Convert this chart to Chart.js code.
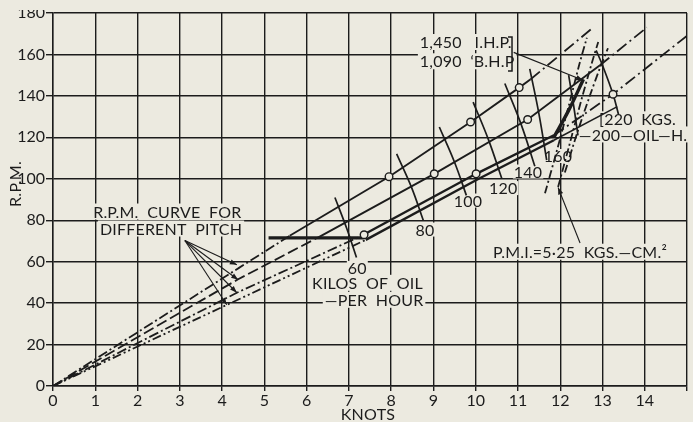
<!DOCTYPE html>
<html>
<head>
<meta charset="utf-8">
<script src="https://cdn.jsdelivr.net/npm/chart.js@4.4.1/dist/chart.umd.min.js"></script>
<style>
  html, body { margin: 0; padding: 0; background: #ecEAE0; }
  #wrap { width: 693px; height: 422px; }
</style>
</head>
<body>
<div id="wrap"><canvas id="chart" width="693" height="422"></canvas></div>
<script>
// ---- axis ranges / ticks ----
const knotTicks = [0, 1, 2, 3, 4, 5, 6, 7, 8, 9, 10, 11, 12, 13, 14];
const rpmTicks = [0, 20, 40, 60, 80, 100, 120, 140, 160, 180];

// ---- R.P.M. curves for four propeller pitches: [knots, r.p.m.] ----
const pitchALead = [[0, 0], [4.4, 57], [5.6, 72.5]];
const pitchARun  = [[5.6, 72.5], [7.95, 101], [9.88, 127.4], [11.03, 144], [11.3, 148]];
const pitchATail = [[11.3, 148], [12.75, 172.5]];

const pitchBLead = [[0, 0], [4.38, 51.5], [6.3, 72]];
const pitchBRun  = [[6.3, 72], [9.02, 102.4], [11.23, 128.6], [12.94, 154.8]];
const pitchBTail = [[12.94, 154.8], [14.05, 173]];

const pitchCLead = [[0, 0], [4.35, 45], [7.3, 72.5]];
const pitchCRun  = [[7.3, 72.5], [10.01, 102.4], [11.85, 121]];
const pitchCTail = [[11.85, 121], [13.25, 140.8], [15, 169]];

const pitchDLead = [[0, 0], [4.15, 39.5], [7.4, 70.5]];
const pitchDRun  = [[7.4, 70.5], [10.05, 99.8], [11.85, 118.6]];
const pitchDTail = [[11.85, 118.6], [13.35, 134.8]];

// trial points marked with rings
const trialPoints = [[7.95, 101], [9.88, 127.4], [11.03, 144], [9.02, 102.4],
                     [11.23, 128.6], [7.36, 73], [10.01, 102.4], [13.25, 140.8]];

// heavy line at constant r.p.m.
const steadyRpm = [[5.1, 71.5], [7.35, 71.5]];

// ---- lines of constant oil consumption (kilos per hour) ----
const oil60  = [[6.67, 91], [6.95, 76], [7.18, 62]];
const oil80  = [[8.13, 112], [8.48, 96], [8.76, 80]];
const oil100 = [[9.14, 125], [9.5, 108], [9.78, 92]];
const oil120 = [[9.94, 137], [10.3, 119], [10.62, 100]];
const oil140 = [[10.69, 146], [11.08, 126], [11.4, 106]];
const oil160 = [[11.28, 153], [11.5, 131], [11.68, 109]];
const oil200 = [[12.2, 150], [12.32, 135], [12.42, 121]];
const oil220 = [[12.85, 162], [13.0, 154.8], [13.25, 140.8], [13.38, 131]];

// ---- constant mean pressure / power lines ----
const pmiLine   = [[11.64, 93], [11.9, 112], [12.2, 135], [12.45, 155], [12.63, 168]];
const powerLine = [[11.95, 96], [12.2, 115], [12.5, 138], [12.75, 156], [12.9, 166]];
const limitLine = [[12.11, 103], [12.4, 122], [12.7, 140], [12.95, 154], [13.13, 163]];
const ratedLine = [[11.85, 120], [12.2, 133], [12.55, 148]];

// ---- arrows: [from, to] in knots / r.p.m. ----
const pitchArrowFrom = [3.12, 70.2];
const pitchArrowTo = [[4.35, 58.5], [4.38, 51.3], [4.35, 45], [4.11, 39.2]];
const powerArrow = [[10.9, 161], [12.54, 147.5]];
const pmiArrow = [[12.47, 69], [11.95, 95.8]];

// ---- labels ----
const oilLabels = [['60', 7.2, 57], ['80', 8.8, 75.5], ['100', 9.82, 89.5],
                   ['120', 10.65, 95.5], ['140', 11.24, 103.5], ['160', 11.95, 111]];
const notes = [
  ['R.P.M.  CURVE  FOR', 0.95, 84.2],
  ['DIFFERENT  PITCH', 1.11, 76],
  ['KILOS  OF  OIL', 6.13, 49.8],
  ['—PER  HOUR', 6.43, 41.6],
  ['1,450   I.H.P.', 8.68, 166],
  ['1,090  \u02BBB.H.P', 8.68, 156.7],
  ['P.M.I.=5\u00B725  KGS.—CM.\u00B2', 10.41, 64.8],
  ['—200—OIL—H.', 12.44, 121.4],
  ['[220  KGS.', 12.92, 128.7]
];

const INK = '#1c1c1c';
const PAPER = '#eceae0';
const FONT = 'Lato, "Open Sans", sans-serif';

const pts = arr => arr.map(([x, y]) => ({ x, y }));

function line(data, opts = {}) {
  return Object.assign({
    data: pts(data),
    showLine: true,
    borderColor: INK,
    borderWidth: 1.9,
    pointRadius: 0,
    pointHoverRadius: 0,
    fill: false,
    tension: 0
  }, opts);
}

const DASH_DOT = [10, 3, 2, 3];
const DASH_DOT_DOT = [9, 3, 2, 3, 2, 3];
const LONG_DASH = [11, 4];
const TAIL = [12, 4, 2, 4];
const VERT = [8, 3, 2, 3];

const datasets = [
  line(pitchALead, { borderDash: DASH_DOT, borderWidth: 1.8 }),
  line(pitchARun),
  line(pitchATail, { borderDash: TAIL, borderWidth: 1.8 }),
  line(pitchBLead, { borderDash: LONG_DASH, borderWidth: 1.8 }),
  line(pitchBRun),
  line(pitchBTail, { borderDash: TAIL, borderWidth: 1.8 }),
  line(pitchCLead, { borderDash: DASH_DOT, borderWidth: 1.8 }),
  line(pitchCRun, { borderWidth: 2.4 }),
  line(pitchCTail, { borderDash: TAIL, borderWidth: 1.8 }),
  line(pitchDLead, { borderDash: DASH_DOT_DOT, borderWidth: 1.8 }),
  line(pitchDRun, { borderWidth: 2.4 }),
  line(pitchDTail, { borderWidth: 1.5 }),
  line(steadyRpm, { borderWidth: 3.4 }),
  line(oil60, { tension: 0.4, borderWidth: 1.7 }),
  line(oil80, { tension: 0.4, borderWidth: 1.7 }),
  line(oil100, { tension: 0.4, borderWidth: 1.7 }),
  line(oil120, { tension: 0.4, borderWidth: 1.7 }),
  line(oil140, { tension: 0.4, borderWidth: 1.7 }),
  line(oil160, { tension: 0.4, borderWidth: 1.7 }),
  line(oil200, { tension: 0.4, borderWidth: 1.7 }),
  line(oil220, { tension: 0.4, borderWidth: 1.7 }),
  line(pmiLine, { tension: 0.3, borderDash: VERT, borderWidth: 1.8 }),
  line(powerLine, { tension: 0.3, borderDash: VERT, borderWidth: 1.8 }),
  line(limitLine, { tension: 0.3, borderDash: VERT, borderWidth: 1.8 }),
  line(ratedLine, { tension: 0.3, borderWidth: 3.4 }),
  {
    data: pts(trialPoints),
    showLine: false,
    pointRadius: 3.8,
    pointHoverRadius: 3.8,
    pointBackgroundColor: PAPER,
    pointBorderColor: INK,
    pointBorderWidth: 1.4,
    order: -1
  }
];

function arrow(ctx, x1, y1, x2, y2) {
  ctx.beginPath();
  ctx.moveTo(x1, y1);
  ctx.lineTo(x2, y2);
  ctx.stroke();
  const a = Math.atan2(y2 - y1, x2 - x1);
  const L = 7, W = 2.6;
  ctx.beginPath();
  ctx.moveTo(x2, y2);
  ctx.lineTo(x2 - L * Math.cos(a) + W * Math.sin(a), y2 - L * Math.sin(a) - W * Math.cos(a));
  ctx.lineTo(x2 - L * Math.cos(a) - W * Math.sin(a), y2 - L * Math.sin(a) + W * Math.cos(a));
  ctx.closePath();
  ctx.fill();
}

const annotate = {
  id: 'annotate',
  beforeDatasetsDraw(chart) {
    const { ctx, scales: { x, y } } = chart;
    ctx.save();
    ctx.font = '16px ' + FONT;
    try { ctx.letterSpacing = '0.2px'; } catch (e) {}
    ctx.textBaseline = 'middle';
    ctx.textAlign = 'left';
    const box = (t, px, py) => {
      const w = ctx.measureText(t).width;
      ctx.fillStyle = PAPER;
      ctx.fillRect(px - 2, py - 8, w + 4, 16);
      ctx.fillStyle = INK;
      ctx.fillText(t, px, py + 1);
    };
    notes.forEach(([t, kx, ry]) => box(t, x.getPixelForValue(kx), y.getPixelForValue(ry)));
    ctx.textAlign = 'center';
    oilLabels.forEach(([t, kx, ry]) => {
      const px = x.getPixelForValue(kx), py = y.getPixelForValue(ry);
      const w = ctx.measureText(t).width;
      ctx.fillStyle = PAPER;
      ctx.fillRect(px - w / 2 - 1, py - 7, w + 2, 14);
      ctx.fillStyle = INK;
      ctx.fillText(t, px, py + 1);
    });
    // bracket closing the power note
    const bx = x.getPixelForValue(10.86);
    const by1 = y.getPixelForValue(168.4), by2 = y.getPixelForValue(152);
    ctx.strokeStyle = INK;
    ctx.lineWidth = 1.5;
    ctx.beginPath();
    ctx.moveTo(bx - 4, by1);
    ctx.lineTo(bx, by1);
    ctx.lineTo(bx, by2);
    ctx.lineTo(bx - 4, by2);
    ctx.stroke();
    ctx.restore();
  },
  afterDatasetsDraw(chart) {
    const { ctx, scales: { x, y } } = chart;
    const P = ([k, r]) => [x.getPixelForValue(k), y.getPixelForValue(r)];
    ctx.save();
    ctx.strokeStyle = INK;
    ctx.fillStyle = INK;
    ctx.lineWidth = 1.1;
    const [fx, fy] = P(pitchArrowFrom);
    pitchArrowTo.forEach(t => { const [tx, ty] = P(t); arrow(ctx, fx, fy, tx, ty); });
    [powerArrow, pmiArrow].forEach(([a, b]) => {
      const [ax, ay] = P(a), [bx, by] = P(b);
      arrow(ctx, ax, ay, bx, by);
    });
    ctx.restore();
  },
  afterDraw(chart) {
    const { ctx, chartArea } = chart;
    ctx.save();
    // paper edge clipping the top of the sheet
    ctx.fillStyle = PAPER;
    ctx.fillRect(0, 0, chartArea.left - 1, chartArea.top - 3);
    ctx.fillStyle = INK;
    ctx.font = '16px ' + FONT;
    try { ctx.letterSpacing = '0.3px'; } catch (e) {}
    ctx.textAlign = 'center';
    ctx.textBaseline = 'middle';
    ctx.fillText('KNOTS', (chartArea.left + chartArea.right) / 2 - 2, chartArea.bottom + 29);
    ctx.translate(16, chartArea.top + 171);
    ctx.rotate(-Math.PI / 2);
    ctx.fillText('R.P.M.', 0, 0);
    ctx.restore();
  }
};

const paperBg = {
  id: 'paperBg',
  beforeDraw(chart) {
    const { ctx, width, height } = chart;
    ctx.save();
    ctx.fillStyle = PAPER;
    ctx.fillRect(0, 0, width, height);
    ctx.restore();
  }
};

new Chart(document.getElementById('chart'), {
  type: 'scatter',
  data: { datasets },
  options: {
    responsive: false,
    animation: false,
    events: [],
    layout: { padding: { top: 13, right: 6, left: 0, bottom: 0 } },
    plugins: { legend: { display: false }, tooltip: { enabled: false } },
    scales: {
      x: {
        type: 'linear',
        min: 0,
        max: 15,
        afterBuildTicks: s => { s.ticks = knotTicks.concat([15]).map(v => ({ value: v })); },
        afterFit: s => { s.height = 36; },
        ticks: {
          callback: v => (knotTicks.includes(v) ? String(v) : ''),
          color: INK,
          font: { family: FONT, size: 16 },
          padding: 0,
          maxRotation: 0
        },
        grid: { color: INK, lineWidth: 1.4, tickLength: 5, drawTicks: true },
        border: { color: INK, width: 1.4 }
      },
      y: {
        type: 'linear',
        min: 0,
        max: 180,
        afterBuildTicks: s => { s.ticks = rpmTicks.map(v => ({ value: v })); },
        afterFit: s => { s.width = 53; },
        ticks: {
          callback: v => String(v),
          color: INK,
          font: { family: FONT, size: 16 },
          padding: 1
        },
        grid: { color: INK, lineWidth: 1.4, tickLength: 7, drawTicks: true },
        border: { color: INK, width: 1.4 }
      }
    }
  },
  plugins: [paperBg, annotate]
});
</script>
</body>
</html>
